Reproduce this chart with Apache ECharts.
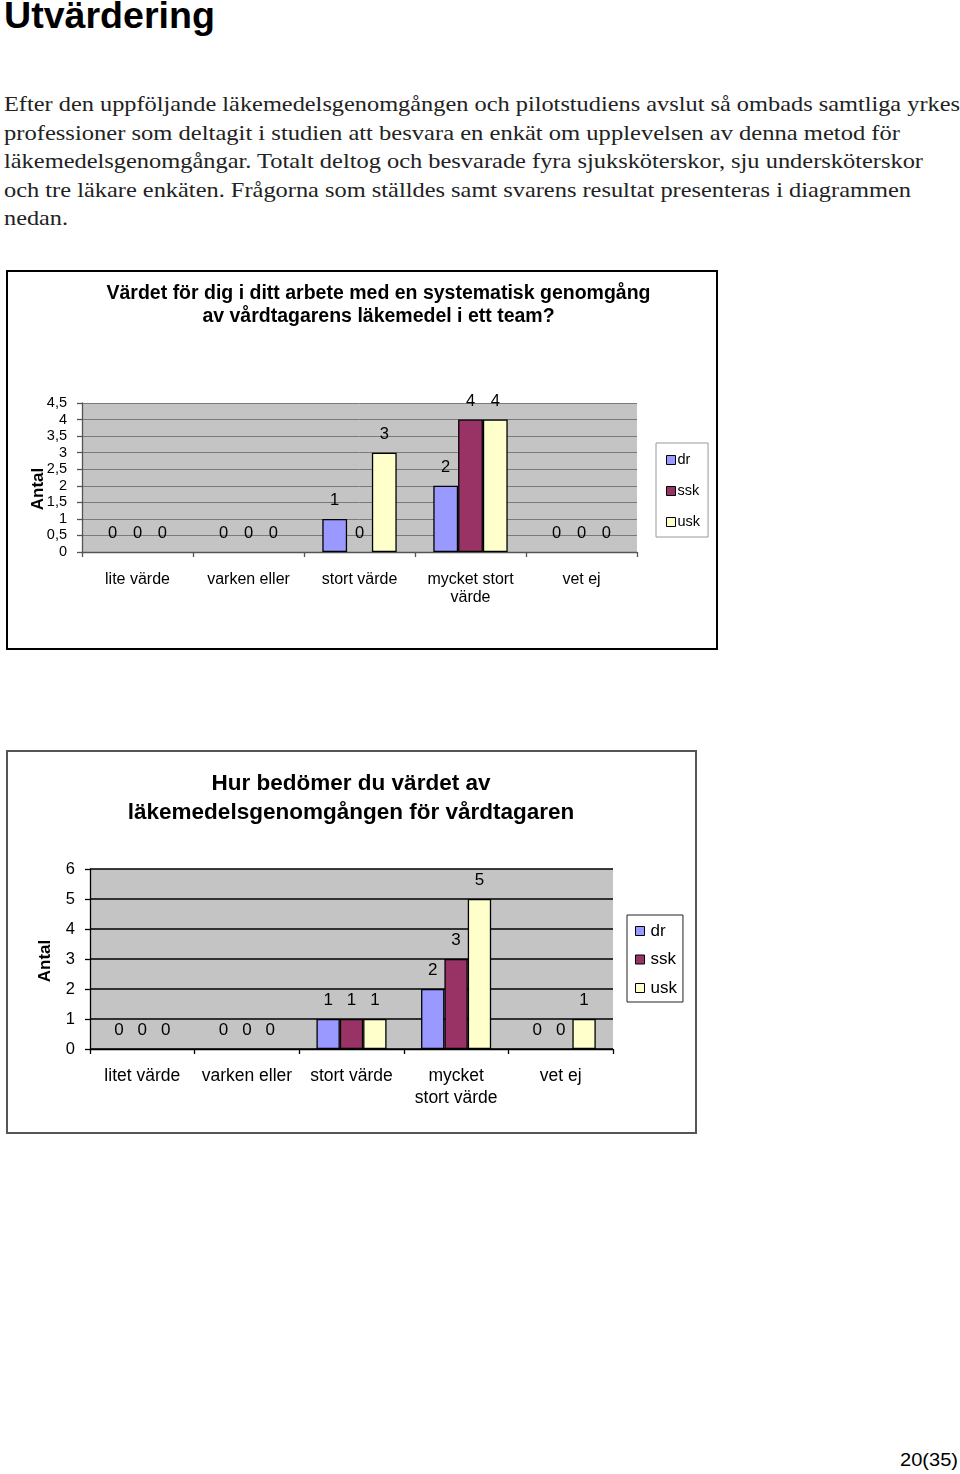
<!DOCTYPE html>
<html>
<head>
<meta charset="utf-8">
<script src="https://cdn.jsdelivr.net/npm/echarts@6/dist/echarts.min.js"></script>
<style>
  html, body { margin: 0; padding: 0; background: #fff; }
  body { width: 960px; height: 1474px; position: relative; overflow: hidden; }
  .h1 { position: absolute; left: 4px; top: -4px; font-family: "Liberation Sans", Arial, sans-serif; font-weight: bold; font-size: 36px; line-height: 40px; color: #000; white-space: nowrap; transform-origin: 0 0; }
  .pl { position: absolute; left: 4px; font-family: "Liberation Serif", "Times New Roman", serif; font-size: 21.5px; line-height: 28.5px; color: #222; white-space: nowrap; transform-origin: 0 0; }
  .pg { position: absolute; left: 900px; top: 1449px; font-family: "Liberation Sans", Arial, sans-serif; font-size: 19px; line-height: 22px; color: #000; white-space: nowrap; transform-origin: 0 0; }
  .box { position: absolute; box-sizing: border-box; }
  .chart { width: 100%; height: 100%; }
</style>
</head>
<body>
<div class="h1" id="h1" data-w="211">Utvärdering</div>
<div id="para"></div>
<div class="pg" id="pg" data-w="58">20(35)</div>

<div class="box" style="left:6px; top:270px; width:712px; height:380px; border:2px solid #000;">
  <div class="chart" id="c1"></div>
</div>
<div class="box" style="left:6px; top:750px; width:691px; height:384px; border:2px solid #555;">
  <div class="chart" id="c2"></div>
</div>

<script>
// ---------- text content ----------
const paragraphLines = [
  "Efter den uppföljande läkemedelsgenomgången och pilotstudiens avslut så ombads samtliga yrkes",
  "professioner som deltagit i studien att besvara en enkät om upplevelsen av denna metod för",
  "läkemedelsgenomgångar. Totalt deltog och besvarade fyra sjuksköterskor, sju undersköterskor",
  "och tre läkare enkäten. Frågorna som ställdes samt svarens resultat presenteras i diagrammen",
  "nedan."
];
const paragraphWidths = [956, 896, 919, 907, 64];

// ---------- chart 1 data ----------
const title1 = "Värdet för dig i ditt arbete med en systematisk genomgång\nav vårdtagarens läkemedel i ett team?";
const categories1 = ["lite värde", "varken eller", "stort värde", "mycket stort\nvärde", "vet ej"];
const dr1  = [0, 0, 1, 2, 0];
const ssk1 = [0, 0, 0, 4, 0];
const usk1 = [0, 0, 3, 4, 0];
const yMax1 = 4.5, yStep1 = 0.5;

// ---------- chart 2 data ----------
const title2 = "Hur bedömer du värdet av\nläkemedelsgenomgången för vårdtagaren";
const categories2 = ["litet värde", "varken eller", "stort värde", "mycket\nstort värde", "vet ej"];
const dr2  = [0, 0, 1, 2, 0];
const ssk2 = [0, 0, 1, 3, 0];
const usk2 = [0, 0, 1, 5, 1];
const yMax2 = 6, yStep2 = 1;

const seriesNames = ["dr", "ssk", "usk"];
const seriesColors = ["#9999FF", "#993366", "#FFFFCC"];
const axisName = "Antal";

// ---------- paragraph ----------
const para = document.getElementById('para');
paragraphLines.forEach((t, i) => {
  const d = document.createElement('div');
  d.className = 'pl';
  d.style.top = (90.3 + i * 28.5) + 'px';
  d.textContent = t;
  d.dataset.w = paragraphWidths[i];
  para.appendChild(d);
});
function fit(el) {
  const w = el.getBoundingClientRect().width;
  const target = parseFloat(el.dataset.w);
  if (w > 0 && target) el.style.transform = 'scaleX(' + (target / w) + ')';
}
document.querySelectorAll('.pl, .h1, .pg').forEach(fit);

const FONT = '"Liberation Sans", Arial, sans-serif';

function makeOption(cfg) {
  const series = [cfg.dr, cfg.ssk, cfg.usk].map((vals, i) => ({
    name: seriesNames[i],
    type: 'bar',
    // zero-height bars get no outline (the reference shows only their labels)
    data: vals.map(v => (v === 0 ? { value: v, itemStyle: { borderWidth: 0 } } : v)),
    barGap: '0%',
    barCategoryGap: '33%',
    itemStyle: { color: seriesColors[i], borderColor: '#000', borderWidth: 1.3 },
    label: { show: true, position: 'top', distance: 10, color: '#000', fontFamily: FONT, fontSize: cfg.dataFont },
    emphasis: { disabled: true },
    animation: false
  }));
  return {
    animation: false,
    textStyle: { fontFamily: FONT },
    title: {
      text: cfg.title,
      left: cfg.titleX,
      textAlign: 'center',
      top: cfg.titleTop,
      padding: 0,
      textStyle: { fontFamily: FONT, fontWeight: 'bold', fontSize: cfg.titleFont, lineHeight: cfg.titleLH, color: '#000' }
    },
    legend: {
      orient: 'vertical',
      left: cfg.legendX,
      top: cfg.legendY,
      data: seriesNames,
      icon: 'rect',
      itemWidth: 9,
      itemHeight: 9,
      itemGap: cfg.legendGap,
      padding: cfg.legendPad,
      backgroundColor: '#fff',
      borderColor: cfg.legendBorder,
      borderWidth: 1,
      borderRadius: 0,
      selectedMode: false,
      itemStyle: { borderColor: '#000', borderWidth: 1 },
      textStyle: { fontFamily: FONT, fontSize: cfg.legendFont, lineHeight: cfg.legendLH, color: '#000', padding: [0, 0, 0, cfg.legendTextPad] }
    },
    grid: {
      left: cfg.gx, top: cfg.gy, width: cfg.gw, height: cfg.gh,
      show: true, backgroundColor: '#C4C4C4', borderWidth: 0, containLabel: false
    },
    graphic: [{
      type: 'text',
      x: cfg.nameX, y: cfg.nameY,
      rotation: Math.PI / 2,
      style: { text: axisName, fontFamily: FONT, fontWeight: 'bold', fontSize: 17, fill: '#000', align: 'center', verticalAlign: 'middle' }
    }],
    xAxis: {
      type: 'category',
      data: cfg.categories,
      boundaryGap: true,
      axisLine: { lineStyle: { color: cfg.axisColor, width: 1.3 } },
      axisTick: { show: true, length: 5, alignWithLabel: false, lineStyle: { color: cfg.axisColor, width: 1.3 } },
      axisLabel: { color: '#000', fontFamily: FONT, fontSize: cfg.catFont, lineHeight: cfg.catLH, margin: cfg.catMargin, interval: 0 }
    },
    yAxis: {
      type: 'value',
      min: 0, max: cfg.yMax, interval: cfg.yStep,
      axisLine: { show: true, lineStyle: { color: cfg.axisColor, width: 1.3 } },
      axisTick: { show: true, length: 5, lineStyle: { color: cfg.axisColor, width: 1.3 } },
      splitLine: { show: true, lineStyle: { color: cfg.gridColor, width: cfg.gridWidth } },
      axisLabel: {
        color: '#000', fontFamily: FONT, fontSize: cfg.yFont, margin: cfg.yMargin,
        formatter: v => String(v).replace('.', ',')
      }
    },
    series: series
  };
}

const c1 = echarts.init(document.getElementById('c1'), null, { renderer: 'canvas' });
c1.setOption(makeOption({
  title: title1, titleX: 370.5, titleTop: 10, titleFont: 19.5, titleLH: 23,
  categories: categories1, dr: dr1, ssk: ssk1, usk: usk1, yMax: yMax1, yStep: yStep1,
  gx: 74, gy: 131, gw: 555, gh: 149,
  legendX: 648, legendY: 171, legendGap: 15, legendPad: [9, 8, 7, 10], legendBorder: '#999',
  legendFont: 14.5, legendLH: 16, legendTextPad: -3,
  nameX: 30, nameY: 217,
  axisColor: '#555', gridColor: '#7a7a7a', gridWidth: 1,
  catFont: 16, catLH: 18, catMargin: 19,
  yFont: 14.5, yMargin: 15, dataFont: 16.5
}));

const c2 = echarts.init(document.getElementById('c2'), null, { renderer: 'canvas' });
c2.setOption(makeOption({
  title: title2, titleX: 343, titleTop: 17, titleFont: 22.5, titleLH: 29,
  categories: categories2, dr: dr2, ssk: ssk2, usk: usk2, yMax: yMax2, yStep: yStep2,
  gx: 82, gy: 117, gw: 523, gh: 180,
  legendX: 619, legendY: 163, legendGap: 10.5, legendPad: [7, 6, 5, 8], legendBorder: '#222',
  legendFont: 17, legendLH: 18, legendTextPad: 1,
  nameX: 37, nameY: 209,
  axisColor: '#000', gridColor: '#000', gridWidth: 1.5,
  catFont: 17.5, catLH: 22, catMargin: 16,
  yFont: 16.5, yMargin: 15, dataFont: 17
}));
</script>
</body>
</html>
